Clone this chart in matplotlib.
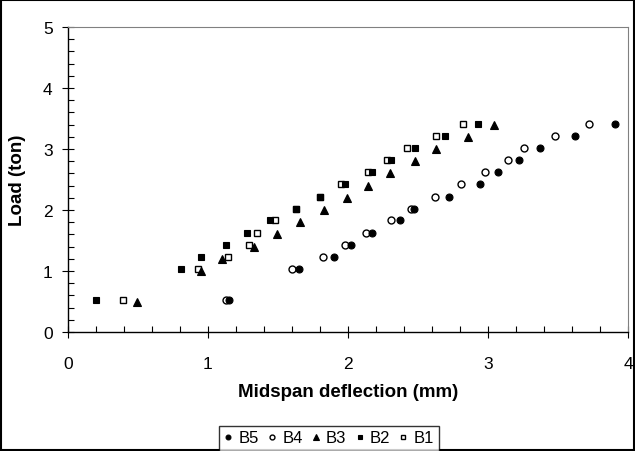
import matplotlib
matplotlib.use("Agg")
import matplotlib.pyplot as plt
from matplotlib.ticker import MultipleLocator
from matplotlib.patches import Rectangle

plt.rcParams["font.family"] = ["Liberation Sans", "DejaVu Sans"]

LOAD = [0.52, 1.03, 1.23, 1.43, 1.63, 1.83, 2.02, 2.22, 2.42, 2.62, 2.82, 3.02, 3.22, 3.41]
LOAD_B3 = [0.50, 1.00, 1.20, 1.40, 1.60, 1.80, 2.00, 2.20, 2.40, 2.60, 2.80, 3.00, 3.20, 3.40]

B5 = [1.15, 1.65, 1.90, 2.02, 2.17, 2.37, 2.47, 2.72, 2.94, 3.07, 3.22, 3.37, 3.62, 3.91]
B4 = [1.13, 1.60, 1.82, 1.98, 2.13, 2.31, 2.45, 2.62, 2.81, 2.98, 3.14, 3.26, 3.48, 3.72]
B3 = [0.49, 0.95, 1.10, 1.33, 1.49, 1.66, 1.83, 1.99, 2.14, 2.30, 2.48, 2.63, 2.86, 3.04]
B2 = [0.20, 0.81, 0.95, 1.13, 1.28, 1.44, 1.63, 1.80, 1.98, 2.17, 2.31, 2.48, 2.69, 2.93]
B1 = [0.39, 0.93, 1.14, 1.29, 1.35, 1.48, 1.63, 1.80, 1.95, 2.14, 2.28, 2.42, 2.63, 2.82]

fig = plt.figure(figsize=(6.35, 4.52), dpi=100)
ax = fig.add_axes([68 / 635, 1 - 333 / 452, (628 - 68) / 635, (333 - 28) / 452])

ms = 5
ax.plot(B5, LOAD, "o", ms=ms, mfc="black", mec="black", mew=0.8, label="B5", zorder=3)
ax.plot(B4, LOAD, "o", ms=ms, mfc="white", mec="black", mew=1.0, label="B4", zorder=2.9)
ax.plot(B3, LOAD_B3, "^", ms=ms + 1, mfc="black", mec="black", mew=0.8, label="B3", zorder=3)
ax.plot(B2, LOAD, "s", ms=ms, mfc="black", mec="black", mew=0.8, label="B2", zorder=3)
ax.plot(B1, LOAD, "s", ms=ms, mfc="white", mec="black", mew=1.0, label="B1", zorder=2.8)

ax.set_xlim(0, 4)
ax.set_ylim(0, 5)
ax.xaxis.set_major_locator(MultipleLocator(1))
ax.xaxis.set_minor_locator(MultipleLocator(0.2))
ax.yaxis.set_major_locator(MultipleLocator(1))
ax.yaxis.set_minor_locator(MultipleLocator(0.2))
ax.tick_params(which="major", direction="inout", length=8, width=0.8, labelsize=12.5)
ax.tick_params(axis="x", which="major", pad=13)
ax.tick_params(axis="y", which="major", pad=7)
ax.tick_params(which="minor", direction="in", length=4, width=0.8)

for s in ("top", "right"):
    ax.spines[s].set_color("#808080")
    ax.spines[s].set_linewidth(0.8)
for s in ("left", "bottom"):
    ax.spines[s].set_color("black")
    ax.spines[s].set_linewidth(1.0)

ax.set_xlabel("Midspan deflection (mm)", fontsize=13.5, fontweight="bold", labelpad=9)
ax.set_ylabel("Load (ton)", fontsize=13.5, fontweight="bold", labelpad=12)

leg = fig.legend(loc="center", bbox_to_anchor=(329 / 635, 1 - 439 / 452), ncol=5,
                 fontsize=12, markerscale=0.7, handlelength=0.5, handletextpad=0.35,
                 columnspacing=0.55, borderpad=0.3, frameon=True, fancybox=False)
leg.get_frame().set_edgecolor("black")
leg.get_frame().set_linewidth(1.0)

fig.patches.append(Rectangle((0.002, 0.002), 0.996, 0.996, transform=fig.transFigure,
                             fill=False, edgecolor="black", linewidth=1.5))

fig.savefig("out.png", dpi=100)
